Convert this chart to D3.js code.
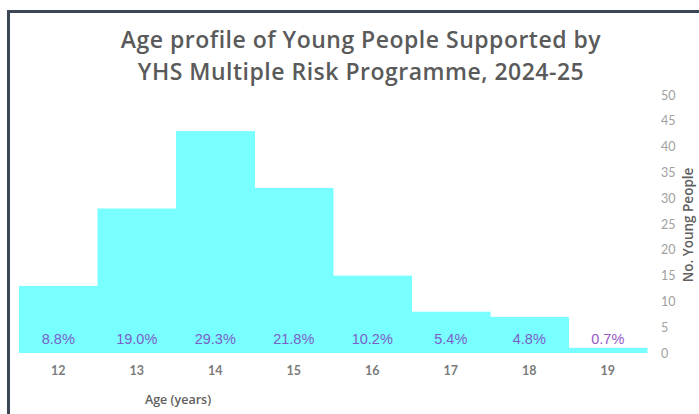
<!DOCTYPE html>
<html>
<head>
<meta charset="utf-8">
<script src="https://cdn.jsdelivr.net/npm/d3@7"></script>
<style>
  body { margin: 0; background: #fff; }
  svg { display: block; }
</style>
</head>
<body>
<script>
const ages = ["12", "13", "14", "15", "16", "17", "18", "19"];
const counts = [13, 28, 43, 32, 15, 8, 7, 1];
const pctLabels = ["8.8%", "19.0%", "29.3%", "21.8%", "10.2%", "5.4%", "4.8%", "0.7%"];
const yTicks = [0, 5, 10, 15, 20, 25, 30, 35, 40, 45, 50];
const titleLines = ["Age profile of Young People Supported by", "YHS Multiple Risk Programme, 2024-25"];

const width = 699, height = 414;
const margin = { top: 95, bottom: 61, left: 19, right: 52 };
const innerW = width - margin.left - margin.right;
const innerH = height - margin.top - margin.bottom;

const svg = d3.select("body").append("svg")
  .attr("width", width)
  .attr("height", height);

// frame (only top and left edges are visible in the crop)
svg.append("path")
  .attr("d", `M8.5,${height} V11.5 H${width}`)
  .attr("fill", "none")
  .attr("stroke", "#3b4656")
  .attr("stroke-width", 3);

svg.append("g")
  .selectAll("text")
  .data(titleLines)
  .join("text")
  .attr("x", 361)
  .attr("y", (d, i) => 48 + i * 32)
  .attr("text-anchor", "middle")
  .attr("font-family", "'Open Sans', sans-serif")
  .attr("font-weight", 600)
  .attr("font-size", 23)
  .attr("letter-spacing", 0.5)
  .attr("fill", "#5a5a5a")
  .text((d) => d);

const g = svg.append("g")
  .attr("transform", `translate(${margin.left}, ${margin.top})`);

const x = d3.scaleBand().domain(ages).range([0, innerW]).padding(0);
const y = d3.scaleLinear().domain([0, 50]).range([innerH, 0]);

g.selectAll("rect.bar")
  .data(counts)
  .join("rect")
  .attr("class", "bar")
  .attr("x", (d, i) => x(ages[i]))
  .attr("width", x.bandwidth() + 0.5)
  .attr("y", (d) => y(d))
  .attr("height", (d) => y(0) - y(d))
  .attr("fill", "#78ffff");

g.selectAll("text.pct")
  .data(pctLabels)
  .join("text")
  .attr("class", "pct")
  .attr("x", (d, i) => x(ages[i]) + x.bandwidth() / 2)
  .attr("y", y(0) - 9)
  .attr("text-anchor", "middle")
  .attr("font-family", "'Liberation Sans', Arial, sans-serif")
  .attr("font-size", 14.5)
  .attr("fill", (d, i) => (i === 7 ? "#9558c6" : "#7c5ec8"))
  .text((d) => d);

// x axis labels
const xAxis = g.append("g")
  .attr("transform", `translate(0, ${innerH})`)
  .call(d3.axisBottom(x).tickSize(0).tickPadding(13));
xAxis.select(".domain").remove();
xAxis.selectAll("text")
  .attr("font-family", "Lato, sans-serif")
  .attr("font-weight", 700)
  .attr("font-size", 12.5)
  .attr("fill", "#7b7b7b");

// y axis on the right
const yAxis = g.append("g")
  .attr("transform", `translate(${innerW}, 0)`)
  .call(d3.axisRight(y).tickValues(yTicks).tickSize(0).tickPadding(14));
yAxis.select(".domain").remove();
yAxis.selectAll("text")
  .attr("font-family", "Lato, sans-serif")
  .attr("font-size", 12.5)
  .attr("fill", "#a0a0a0");

svg.append("text")
  .attr("transform", `translate(693, 225) rotate(-90)`)
  .attr("text-anchor", "middle")
  .attr("font-family", "'Open Sans', sans-serif")
  .attr("font-weight", 600)
  .attr("font-size", 13.5)
  .attr("fill", "#606060")
  .text("No. Young People");

svg.append("text")
  .attr("x", 178)
  .attr("y", 404)
  .attr("text-anchor", "middle")
  .attr("font-family", "'Open Sans', sans-serif")
  .attr("font-weight", 600)
  .attr("font-size", 12.5)
  .attr("fill", "#606060")
  .text("Age (years)");
</script>
</body>
</html>
